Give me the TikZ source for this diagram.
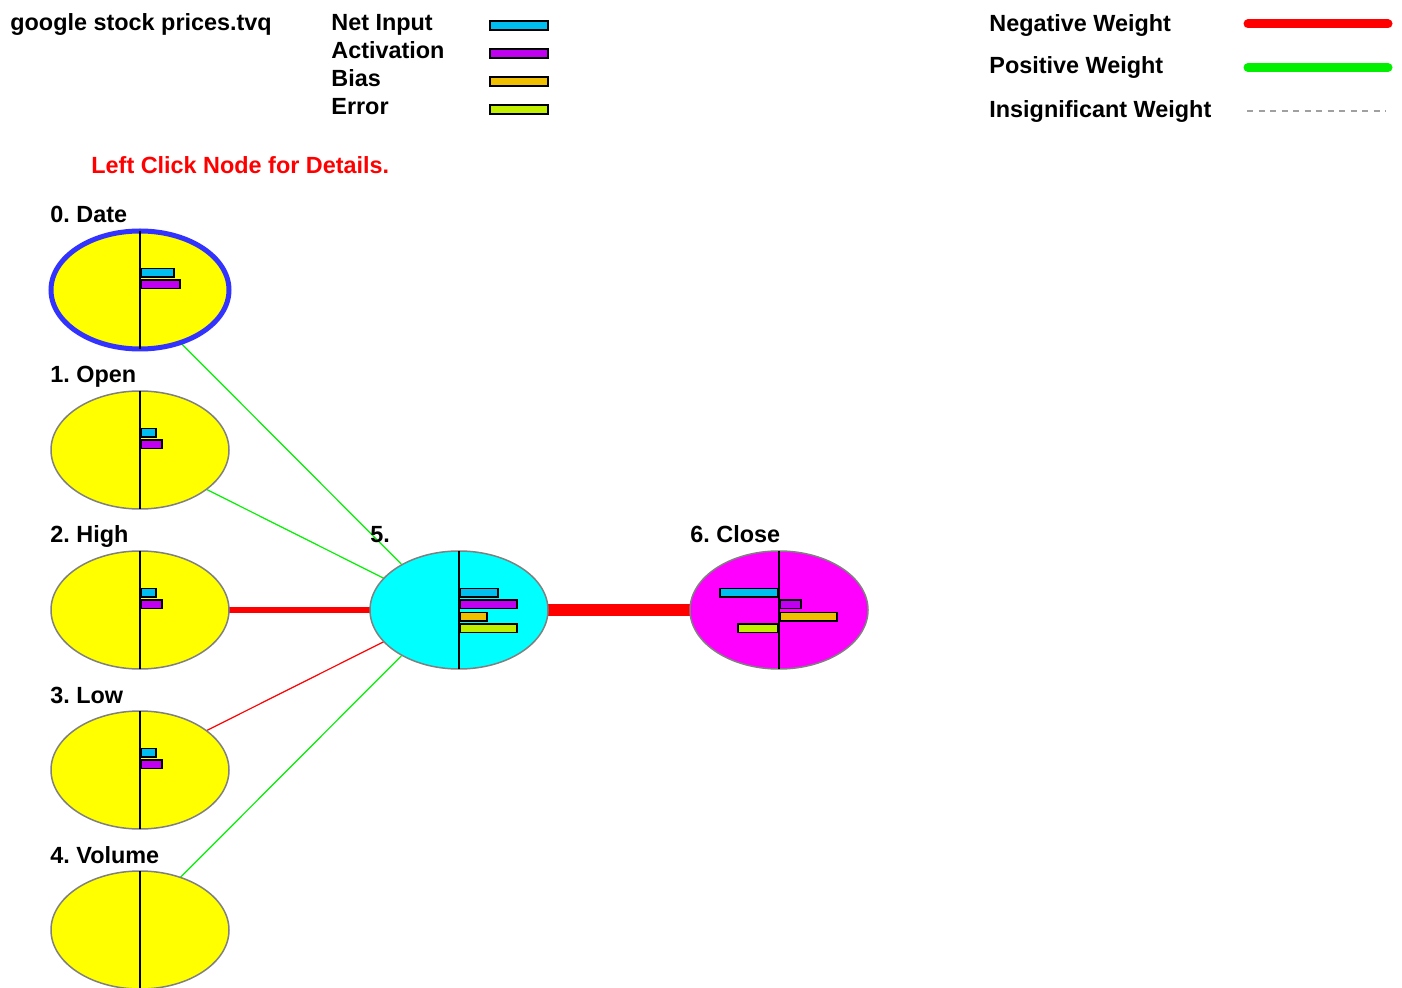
\documentclass[tikz,border=0pt]{standalone}
\usepackage{fontspec}
\setmainfont{Liberation Sans}
\usetikzlibrary{shapes.geometric}
\usetikzlibrary{backgrounds}

\definecolor{netcol}{RGB}{0,190,240}
\definecolor{actcol}{RGB}{192,0,240}
\definecolor{biascol}{RGB}{240,192,0}
\definecolor{errcol}{RGB}{192,240,0}
\definecolor{negcol}{RGB}{255,0,0}
\definecolor{poscol}{RGB}{0,240,0}
\definecolor{rimgray}{RGB}{128,128,128}
\definecolor{selblue}{RGB}{51,51,255}
\definecolor{insgray}{RGB}{160,160,160}
\definecolor{inyellow}{RGB}{255,255,0}
\definecolor{hidcyan}{RGB}{0,255,255}
\definecolor{outmagenta}{RGB}{255,0,255}

\tikzset{
	neuron/.style={ellipse, minimum width=89pt, minimum height=59pt, inner sep=0pt, outer sep=0pt},
	lbl/.style={anchor=base west, inner sep=0pt, font=\bfseries\frenchspacing\fontsize{11.7pt}{14pt}\selectfont},
	barbox/.style={draw=black, line width=0.8pt},
	posw/.style={draw=poscol, line width=0.6pt},
	negw/.style={draw=negcol, line width=0.6pt}
}

\begin{document}
\begin{tikzpicture}[x=0.5pt, y=-0.5pt]
	\useasboundingbox (0,0) rectangle (1402,988);

	\node[lbl] (title) at (10,31) {google stock prices.tvq};
	\foreach \name/\col [count=\i from 0] in {Net Input/netcol, Activation/actcol, Bias/biascol, Error/errcol} {
		\node[lbl] (key\i) at (331,31+27.7*\i) {\name};
		\draw[barbox, fill=\col] (490,21+28*\i) rectangle (548,30+28*\i);
	}

	\node[lbl] (negkey) at (989,31.5) {Negative Weight};
	\node[lbl] (poskey) at (989,74) {Positive Weight};
	\node[lbl] (inskey) at (989,118) {Insignificant Weight};
	\draw[negcol, line width=4.5pt, line cap=round] (1248,24) -- (1388,24);
	\draw[poscol, line width=4.5pt, line cap=round] (1248,67.5) -- (1388,67.5);
	\draw[insgray, line width=0.7pt, dash pattern=on 3pt off 2.75pt] (1247,111) -- (1386,111);

	\node[lbl, text=negcol] (hint) at (91,173.3) {Left Click Node for Details.};

	\foreach \lab/\y/\rim/\rimw [count=\i from 0] in {Date/290/selblue/2.5pt, Open/450/rimgray/0.75pt, High/610/rimgray/0.75pt, Low/770/rimgray/0.75pt, Volume/930/rimgray/0.75pt} {
		\node[neuron, fill=inyellow, draw=\rim, line width=\rimw] (n\i) at (140,\y) {};
		\node[lbl] (t\i) at (50,\y-67) {\i. \lab};
	}
	\node[neuron, fill=hidcyan, draw=rimgray, line width=0.75pt] (n5) at (459,610) {};
	\node[lbl] (t5) at (370,543) {5.};
	\node[neuron, fill=outmagenta, draw=rimgray, line width=0.75pt] (n6) at (779,610) {};
	\node[lbl] (t6) at (690,543) {6. Close};

	\begin{scope}[on background layer]
		\draw[posw] ([xshift=-6pt]n0.center) -- ([xshift=-6pt]n5.center);
		\draw[posw] ([xshift=-6pt]n1.center) -- ([xshift=-6pt]n5.center);
		\draw[negw, line width=3pt] (n2) -- (n5);
		\draw[negw] ([xshift=-6pt]n3.center) -- ([xshift=-6pt]n5.center);
		\draw[posw] ([xshift=-6pt]n4.center) -- ([xshift=-6pt]n5.center);
		\draw[negw, line width=6pt] (n5) -- (n6);
	\end{scope}

	\foreach \i in {0,...,6}
		\draw[line width=1pt] (n\i.north) -- (n\i.south);

	\foreach \i/\net/\act in {0/34/40, 1/16/22, 2/16/22, 3/16/22} {
		\begin{scope}[shift={(n\i.center)}]
			\draw[barbox, fill=netcol] (1,-21.5) rectangle (\net,-13);
			\draw[barbox, fill=actcol] (1,-10) rectangle (\act,-1.5);
		\end{scope}
	}
	\begin{scope}[shift={(n5.center)}]
		\draw[barbox, fill=netcol] (1,-21.5) rectangle (39,-13);
		\draw[barbox, fill=actcol] (1,-10) rectangle (58,-1.5);
		\draw[barbox, fill=biascol] (1,2.5) rectangle (28,11);
		\draw[barbox, fill=errcol] (1,14) rectangle (58,22.5);
	\end{scope}
	\begin{scope}[shift={(n6.center)}]
		\draw[barbox, fill=netcol] (-1,-21.5) rectangle (-59,-13);
		\draw[barbox, fill=actcol] (1,-10) rectangle (22,-1.5);
		\draw[barbox, fill=biascol] (1,2.5) rectangle (58,11);
		\draw[barbox, fill=errcol] (-1,14) rectangle (-41,22.5);
	\end{scope}
\end{tikzpicture}
\end{document}
